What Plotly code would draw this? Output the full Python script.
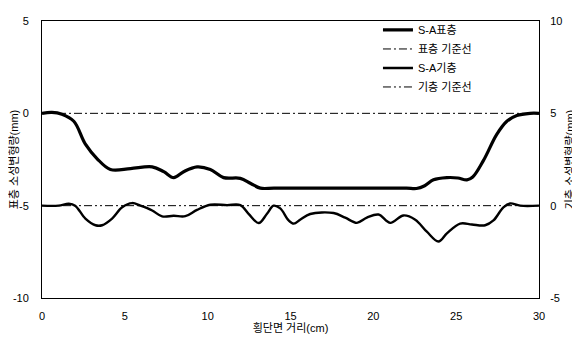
import plotly.graph_objects as go

# 표층 (surface layer) deformation, left axis (mm)
surf_x = [0, 0.6, 1.2, 1.92, 2.62, 3.33, 4.13, 5.34, 6.65, 7.35, 7.95, 8.55, 9.36, 10.16,
          10.96, 11.97, 12.6, 13.18, 14.0, 16.0, 18.0, 20.0, 22.0, 22.6, 23.1, 23.63, 24.44,
          25.1, 25.65, 26.0, 26.65, 27.45, 28.06, 28.66, 29.46, 30]
surf_y = [0, 0.05, -0.05, -0.43, -1.67, -2.46, -3.04, -2.99, -2.9, -3.16, -3.48, -3.16, -2.9, -3.04,
          -3.48, -3.52, -3.8, -4.05, -4.05, -4.05, -4.05, -4.05, -4.05, -4.07, -3.92, -3.6, -3.48,
          -3.5, -3.6, -3.45, -2.55, -1.14, -0.43, -0.12, 0, 0]

# 기층 (base layer) deformation, right axis (mm)
base_x = [0, 1.0, 1.62, 2.0, 2.62, 3.23, 3.63, 4.23, 4.84, 5.44, 5.94, 6.65, 7.25, 7.95, 8.65,
          9.36, 10.16, 11.17, 11.97, 12.47, 13.08, 13.58, 13.98, 14.38, 14.89, 15.2, 15.6,
          16.19, 17.6, 18.3, 19.01, 19.61, 20.31, 21.02, 21.82, 22.53, 23.23, 23.93, 24.44,
          25.24, 25.95, 26.75, 27.25, 27.85, 28.26, 28.86, 30]
base_y = [0, 0, 0.1, 0, -0.7, -1.06, -1.06, -0.7, -0.09, 0.14, 0, -0.26, -0.58, -0.55, -0.57,
          -0.23, 0.05, 0.03, 0.03, -0.44, -0.94, -0.44, 0, -0.15, -0.8, -0.97, -0.75,
          -0.45, -0.4, -0.65, -0.93, -0.65, -0.48, -0.93, -0.53, -0.76, -1.41, -1.94, -1.5,
          -0.97, -1.02, -1.06, -0.8, -0.09, 0.12, 0, 0]

# reference lines
ref_x = [0, 30]
surf_ref = [0, 0]
base_ref = [0, 0]

x_ticks = [0, 5, 10, 15, 20, 25, 30]
y1_ticks = [5, 0, -5, -10]
y2_ticks = [10, 5, 0, -5]

names = ["S-A표층", "표층 기준선", "S-A기층", "기층 기준선"]

FONT = "Arial, 'Liberation Sans', 'Noto Sans CJK KR', sans-serif"

def labels(vals):
    return [str(v) for v in vals]  # hyphen-minus as in the reference

fig = go.Figure()
fig.add_trace(go.Scatter(x=surf_x, y=surf_y, name=names[0], mode="lines",
                         line=dict(color="black", width=3.2, shape="spline", smoothing=1.0),
                         yaxis="y"))
fig.add_trace(go.Scatter(x=ref_x, y=surf_ref, name=names[1], mode="lines",
                         line=dict(color="black", width=1, dash="8px,3px,2px,3px"),
                         yaxis="y"))
fig.add_trace(go.Scatter(x=base_x, y=base_y, name=names[2], mode="lines",
                         line=dict(color="black", width=2.4, shape="spline", smoothing=1.0),
                         yaxis="y2"))
fig.add_trace(go.Scatter(x=ref_x, y=base_ref, name=names[3], mode="lines",
                         line=dict(color="black", width=1, dash="8px,3px,2px,3px,2px,3px"),
                         yaxis="y2"))

# page body has an 8px margin, so the figure is sized/offset to compensate
fig.update_layout(
    width=572, height=332,
    margin=dict(l=34, r=41, t=7, b=42),
    paper_bgcolor="white", plot_bgcolor="white",
    font=dict(family=FONT, size=11, color="black"),
    showlegend=True,
    legend=dict(x=0.676, y=1.02, xanchor="left", yanchor="top",
                bgcolor="rgba(0,0,0,0)", font=dict(size=11),
                tracegroupgap=0, itemwidth=30),
    xaxis=dict(range=[0, 30], tickvals=x_ticks, ticktext=labels(x_ticks),
               showgrid=False, zeroline=False, automargin=False,
               showline=True, linecolor="black", linewidth=1, mirror=True,
               ticks="outside", ticklen=8, tickcolor="rgba(0,0,0,0)",
               title=dict(text="횡단면 거리(cm)", standoff=0, font=dict(size=11))),
    yaxis=dict(range=[-10, 5], tickvals=y1_ticks, ticktext=labels(y1_ticks),
               showgrid=False, zeroline=False, automargin=False,
               showline=True, linecolor="black", linewidth=1, ticks="",
               ticklabelstandoff=10,
               title=dict(text="표층 소성변형량(mm)", standoff=0, font=dict(size=11))),
    yaxis2=dict(range=[-5, 10], tickvals=y2_ticks, ticktext=labels(y2_ticks),
                overlaying="y", side="right", automargin=False,
                showgrid=False, zeroline=False, showline=True, linecolor="black",
                linewidth=1, ticks="", ticklabelstandoff=8,
                title=dict(text="기층 소성변형량(mm)", standoff=4, font=dict(size=11))),
)

fig.write_html("out.html")
